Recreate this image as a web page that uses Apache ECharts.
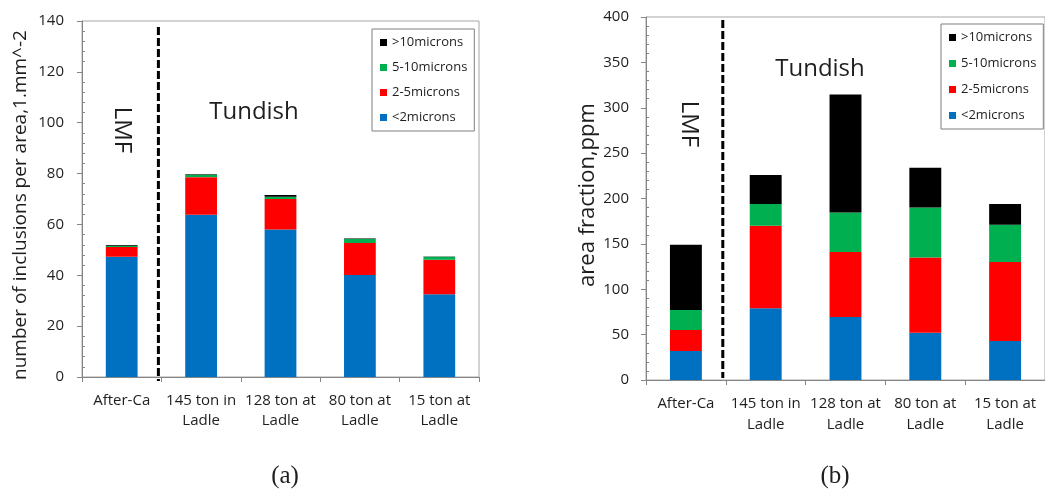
<!DOCTYPE html>
<html>
<head>
<meta charset="utf-8">
<script src="https://cdn.jsdelivr.net/npm/echarts@6/dist/echarts.min.js"></script>
<style>
  html, body { margin: 0; padding: 0; background: #fff; }
  #chart { width: 1045px; height: 491px; }
</style>
</head>
<body>
<div id="chart"></div>
<script>
// Sampling stages along the process route
const categories = ['After-Ca', '145 ton in\nLadle', '128 ton at\nLadle', '80 ton at\nLadle', '15 ton at\nLadle'];

// Inclusion size classes (stack order, bottom to top) and legend order (top to bottom)
const sizeClasses = ['<2microns', '2-5microns', '5-10microns', '>10microns'];
const legendOrder = ['>10microns', '5-10microns', '2-5microns', '<2microns'];

// (a) number of inclusions per area, 1/mm^2
const countLt2   = [47.3, 63.8, 58.0, 40.1, 32.5];
const count2to5  = [3.8, 14.8, 12.0, 12.6, 13.6];
const count5to10 = [0.5, 1.0, 0.9, 1.6, 1.2];
const countGt10  = [0.3, 0.2, 0.7, 0.2, 0.1];

// (b) area fraction, ppm
const areaLt2   = [32, 79, 69.5, 52, 43];
const area2to5  = [23, 91, 71.5, 83, 87];
const area5to10 = [22, 24, 43.5, 55, 41];
const areaGt10  = [72, 32, 130, 44, 23];

// Value axis ranges: [min, max, interval]
const countAxisRange = [0, 140, 20];
const areaAxisRange  = [0, 400, 50];

const classColors = ['#0070C0', '#FF0000', '#00B050', '#000000'];
const SANS = "'Open Sans', 'DejaVu Sans', sans-serif";
const SERIF = "'Liberation Serif', 'DejaVu Serif', serif";
const AXIS_GRAY = '#868686';
const TEXT = '#1e1e1e';

const countData = [countLt2, count2to5, count5to10, countGt10];
const areaData  = [areaLt2, area2to5, area5to10, areaGt10];

function categoryAxis(gridIndex, margin, lineHeight) {
  return {
    type: 'category',
    gridIndex: gridIndex,
    data: categories,
    boundaryGap: true,
    axisLine: { show: true, lineStyle: { color: AXIS_GRAY, width: 1 } },
    axisTick: { show: true, length: 5, alignWithLabel: false, lineStyle: { color: AXIS_GRAY } },
    axisLabel: {
      interval: 0, margin: margin, color: TEXT,
      fontFamily: SANS, fontSize: 15, lineHeight: lineHeight
    },
    splitLine: { show: false }
  };
}

function valueAxis(gridIndex, range, labelMargin) {
  return {
    type: 'value',
    gridIndex: gridIndex,
    min: range[0], max: range[1], interval: range[2],
    position: 'left',
    axisLine: { show: true, lineStyle: { color: AXIS_GRAY, width: 1 } },
    axisTick: { show: true, length: 5, lineStyle: { color: AXIS_GRAY } },
    axisLabel: { margin: labelMargin, color: TEXT, fontFamily: SANS, fontSize: 15 },
    splitLine: { show: false }
  };
}

// Companion axis carrying only the inward minor ticks
function minorTickAxis(gridIndex, range) {
  return {
    type: 'value',
    gridIndex: gridIndex,
    min: range[0], max: range[1], interval: range[2],
    position: 'left',
    offset: 0,
    axisLine: { show: false },
    axisTick: { show: false, inside: true },
    minorTick: { show: true, splitNumber: 5, length: 3, lineStyle: { color: AXIS_GRAY } },
    axisLabel: { show: false },
    splitLine: { show: false }
  };
}

function stackSeries(data, xIdx, yIdx, stackName) {
  return sizeClasses.map((name, i) => ({
    name: name,
    type: 'bar',
    stack: stackName,
    xAxisIndex: xIdx,
    yAxisIndex: yIdx,
    barWidth: '40%',
    itemStyle: { color: classColors[i] },
    emphasis: { disabled: true },
    data: data[i]
  }));
}

function legendBox(left, top, gap) {
  return {
    orient: 'vertical',
    left: left, top: top,
    data: legendOrder,
    icon: 'rect',
    itemWidth: 7, itemHeight: 7,
    itemGap: gap,
    padding: [7, 7, 7, 8],
    borderColor: '#7f7f7f', borderWidth: 1,
    backgroundColor: '#fff',
    selectedMode: false,
    textStyle: { fontFamily: SANS, fontSize: 13, color: TEXT, lineHeight: 13 }
  };
}

const chart = echarts.init(document.getElementById('chart'), null, { renderer: 'canvas' });

chart.setOption({
  animation: false,
  backgroundColor: '#fff',
  grid: [
    { left: 82, top: 21, right: 566, bottom: 114, show: true, borderColor: '#a6a6a6', borderWidth: 1, containLabel: false },
    { left: 646, top: 17, right: -7, bottom: 111, show: true, borderColor: '#a6a6a6', borderWidth: 1, containLabel: false }
  ],
  xAxis: [categoryAxis(0, 14, 20), categoryAxis(1, 13, 21)],
  yAxis: [
    valueAxis(0, countAxisRange, 18),
    valueAxis(1, areaAxisRange, 17),
    minorTickAxis(0, countAxisRange),
    minorTickAxis(1, areaAxisRange)
  ],
  legend: [legendBox(372, 29, 12), legendBox(941, 24, 13)],
  series: [].concat(
    stackSeries(countData, 0, 0, 'count'),
    stackSeries(areaData, 1, 1, 'area')
  )
});

// Annotations placed from the axes' own scales
function boundaryX(xAxisIndex) {
  const p0 = chart.convertToPixel({ xAxisIndex: xAxisIndex }, 0);
  const p1 = chart.convertToPixel({ xAxisIndex: xAxisIndex }, 1);
  return (p0 + p1) / 2 - 3;
}
function yPix(yAxisIndex, v) {
  return chart.convertToPixel({ yAxisIndex: yAxisIndex }, v);
}

const leftDivX = boundaryX(0);
const rightDivX = boundaryX(1);

function dashedDivider(x, y1, y2) {
  return {
    type: 'line',
    shape: { x1: x, y1: y1, x2: x, y2: y2 },
    style: { stroke: '#000', lineWidth: 3, lineDash: [8, 3] },
    silent: true, z: 10
  };
}

function label(text, x, y, font, rotation) {
  return {
    type: 'text',
    x: x, y: y,
    rotation: rotation || 0,
    style: { text: text, font: font, fill: TEXT, align: 'center', verticalAlign: 'middle' },
    silent: true, z: 10
  };
}

chart.setOption({
  graphic: [
    dashedDivider(leftDivX, yPix(0, 140) + 6, yPix(0, 0) + 4),
    dashedDivider(rightDivX, yPix(1, 400) + 3, yPix(1, 0) - 2),

    label('number of inclusions per area,1.mm^-2', 21, 205, '19px ' + SANS, Math.PI / 2),
    label('area fraction,ppm', 588, 195, '22px ' + SANS, Math.PI / 2),

    label('LMF', 122, 130, '24px ' + SANS, -Math.PI / 2),
    label('Tundish', 254, 112, '24px ' + SANS),
    label('LMF', 689, 124, '24px ' + SANS, -Math.PI / 2),
    label('Tundish', 820, 69, '24px ' + SANS),

    label('(a)', 285, 476, '25px ' + SERIF),
    label('(b)', 835, 476, '25px ' + SERIF)
  ]
});
</script>
</body>
</html>
